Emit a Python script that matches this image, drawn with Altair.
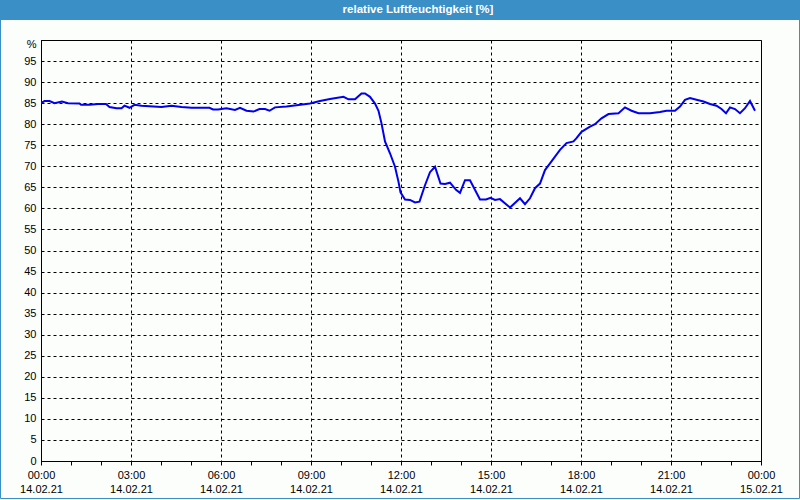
import altair as alt
import pandas as pd

# minutes after 14.02.21 00:00 and relative humidity [%]
minutes = [0, 7, 17, 27, 42, 54, 77, 80, 97, 114, 130, 137, 151, 161, 167, 177, 187, 201,
           241, 261, 281, 301, 337, 344, 354,
           371, 388, 398, 411, 425, 437, 448, 457, 468, 491, 511, 538, 558, 578, 605,
           615, 628, 641, 648, 658, 668, 675, 681,
           688, 698, 708, 715, 719, 728, 738, 748, 757, 768, 778, 788, 799, 808, 818,
           830, 838, 848, 858, 878, 890, 899, 908, 918, 938, 958,
           968, 978, 988, 998, 1008, 1018, 1038, 1051, 1065, 1071, 1081, 1098, 1108,
           1121, 1135, 1155, 1168, 1181, 1195, 1218,
           1238, 1251, 1268, 1278, 1288, 1298, 1311, 1325, 1338, 1351, 1361, 1370,
           1378, 1388, 1398, 1408, 1418, 1428]
humidity = [85.0, 85.5, 85.5, 85.0, 85.4, 85.0, 84.9, 84.6, 84.6, 84.8, 84.8, 84.1, 83.8,
            83.8, 84.4, 83.9, 84.6, 84.4, 84.1, 84.4, 84.1, 83.9, 83.9, 83.5, 83.5,
            83.8, 83.4, 83.9, 83.2, 83.0, 83.6, 83.6, 83.2, 84.0, 84.2, 84.5, 84.9, 85.5,
            86.0, 86.5, 85.9, 85.9, 87.3, 87.3, 86.5, 84.9, 83.2, 80.2,
            75.9, 73.1, 69.9, 66.3, 63.8, 62.1, 62.0, 61.4, 61.6, 65.5, 68.6, 69.9, 65.9,
            65.8, 66.1, 64.4, 63.7, 66.7, 66.7, 62.1, 62.1, 62.5, 62.0, 62.2, 60.2, 62.4,
            61.0, 62.4, 64.8, 65.9, 69.1, 70.7, 73.9, 75.5, 75.9, 76.7, 78.2, 79.4, 80.0,
            81.4, 82.4, 82.6, 84.0, 83.2, 82.6, 82.6,
            82.9, 83.2, 83.2, 84.2, 85.8, 86.2, 85.8, 85.4, 84.8, 84.4, 83.6, 82.6,
            84.0, 83.6, 82.6, 83.8, 85.5, 83.2]

title_text = "relative Luftfeuchtigkeit [%]"
y_ticks = list(range(0, 101, 5))

start = pd.Timestamp("2021-02-14 00:00")
times = [(start + pd.Timedelta(minutes=m)).strftime("%Y-%m-%dT%H:%M:%S") for m in minutes]
df = pd.DataFrame({"t": times, "v": humidity})

x_values = [alt.DateTime(year=2021, month=2, date=14, hours=h) for h in range(24)] + \
           [alt.DateTime(year=2021, month=2, date=15, hours=0)]

FONT = "Liberation Sans"
BLUE = "#3b8fc7"

x_axis = alt.Axis(
    values=x_values,
    title=None,
    labelExpr="hours(datum.value) % 3 == 0 ? [timeFormat(datum.value, '%H:%M'), timeFormat(datum.value, '%d.%m.%y')] : ''",
    labelFont=FONT, labelFontSize=11, labelColor="#000000",
    labelLineHeight=14, labelPadding=4, labelOverlap=False, labelFlush=False, labelBound=False,
    labelAngle=0,
    tickSize=4, tickColor="#000000", domainColor="#000000",
    grid=True, gridColor="#000000", gridDash=[3, 3], gridWidth=1,
    gridOpacity={"condition": {"test": "hours(datum.value) % 3 == 0", "value": 1}, "value": 0},
)

y_axis = alt.Axis(
    values=y_ticks,
    title=None,
    labelExpr="datum.value == 100 ? '%' : datum.label",
    labelFont=FONT, labelFontSize=11, labelColor="#000000",
    labelPadding=5, ticks=False, domainColor="#000000",
    labelOffset={"condition": {"test": "datum.value == 100", "value": 4}, "value": 0},
    grid=True, gridColor="#000000", gridDash=[3, 3], gridWidth=1,
)

line = alt.Chart(df).mark_line(color="#0000ee", strokeWidth=2, clip=True).encode(
    x=alt.X("t:T", axis=x_axis,
            scale=alt.Scale(domain=[alt.DateTime(year=2021, month=2, date=14, hours=0),
                                    alt.DateTime(year=2021, month=2, date=15, hours=0)])),
    y=alt.Y("v:Q", axis=y_axis, scale=alt.Scale(domain=[0, 100], nice=False)),
)

deco = alt.Data(values=[{"label": title_text}])
bar = alt.Chart(deco).mark_rect(color=BLUE).encode(
    x=alt.value(-41), x2=alt.value(759), y=alt.value(-40), y2=alt.value(-20)
)
border = alt.Chart(deco).mark_rect(fillOpacity=0, stroke=BLUE, strokeWidth=1).encode(
    x=alt.value(-40.5), x2=alt.value(758.5), y=alt.value(-30), y2=alt.value(458.5)
)
title = alt.Chart(deco).mark_text(color="white", font=FONT, fontSize=11.5, fontWeight="bold",
                                  align="center", baseline="middle").encode(
    x=alt.value(377), y=alt.value(-30), text="label:N"
)

chart = alt.layer(line, bar, border, title).properties(
    width=720, height=421,
    autosize=alt.AutoSizeParams(type="none"),
    padding={"left": 41, "top": 40, "right": 39, "bottom": 39},
    background="#fcfefc",
).configure_view(stroke="#000000", strokeWidth=1, fill="#fcfefc")

chart.save("out.html", embed_options={"renderer": "svg", "actions": False})
